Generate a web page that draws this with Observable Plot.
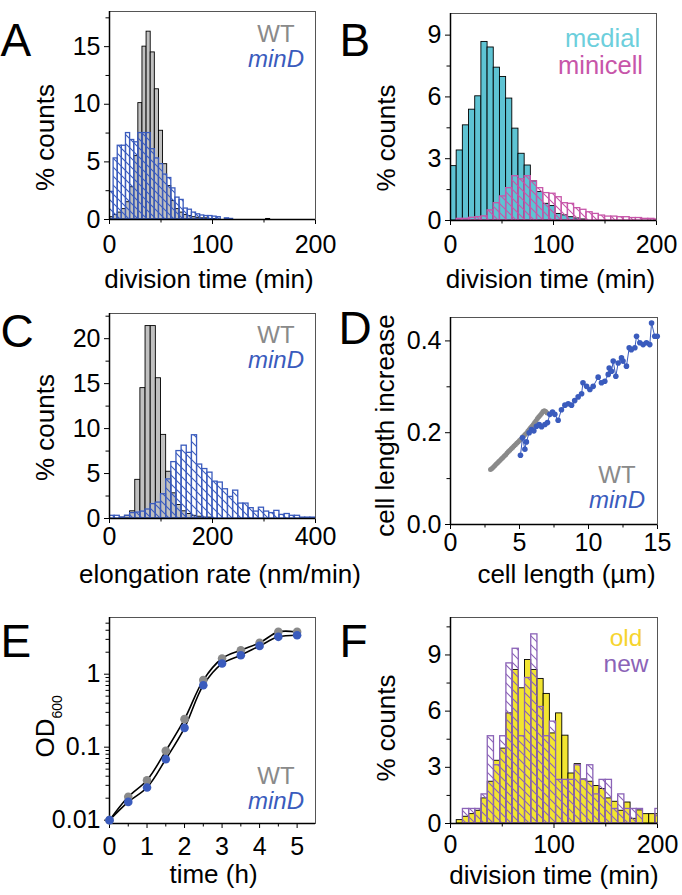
<!DOCTYPE html>
<html><head><meta charset="utf-8">
<script src="https://cdn.jsdelivr.net/npm/d3@7"></script>
<script src="https://cdn.jsdelivr.net/npm/@observablehq/plot@0.6"></script>
<style>
body{margin:0;background:#fff;}
#fig{position:relative;width:682px;height:895px;font-family:"Liberation Sans",Arial,Helvetica,sans-serif;}
.panel{position:absolute;}
</style></head><body>
<svg style="position:absolute;width:0;height:0" aria-hidden="true"><defs>
<pattern id="hBlue" patternUnits="userSpaceOnUse" width="9" height="9"><path d="M0,0L9,9M-1,8L1,10M8,-1L10,1" stroke="#3a5bbd" stroke-width="1.1"/></pattern>
<pattern id="hMag" patternUnits="userSpaceOnUse" width="9" height="9"><path d="M0,0L9,9M-1,8L1,10M8,-1L10,1" stroke="#c756a9" stroke-width="1.1"/></pattern>
<pattern id="hPur" patternUnits="userSpaceOnUse" width="9" height="9"><path d="M0,0L9,9M-1,8L1,10M8,-1L10,1" stroke="#8b63b7" stroke-width="1.1"/></pattern>
</defs></svg>
<div id="fig"></div>
<script>
// ---------- DATA ----------
// A: division time histograms, 4-min bins from 0
const binA = 4;
const wtA = [0.2,0.4,0.6,0.9,1.5,2.8,5.5,10.1,15.0,16.3,14.5,11.3,7.7,4.8,2.9,1.6,0.9,0.6,0.4,0.3,0.2,0.15,0.1,0.1,0.05,0.05,0,0,0,0,0,0,0,0,0,0,0,0,0.05];
const minDA = [2.4,5.3,6.4,6.4,7.5,6.9,6.7,7.5,7.5,7.5,6.1,5.3,4.8,3.9,3.6,2.7,1.9,1.7,0.95,0.85,0.6,0.45,0.35,0.3,0.3,0.25,0.2,0,0.1,0.05];
// B: medial vs minicell, 6-min bins
const binB = 6;
const medialB = [2.64,3.4,4.62,5.38,6.03,8.67,8.4,7.42,6.97,5.92,4.46,3.24,2.67,1.9,1.38,0.81,0.7,0.32,0.25,0.16,0.1,0.05];
const minicellB = [0,0.08,0.08,0.13,0.16,0.2,0.49,0.84,1.17,1.57,2.15,2.0,2.15,1.9,1.57,1.33,1.3,1.13,0.84,0.81,0.6,0.52,0.4,0.32,0.24,0.19,0.19,0.16,0.16,0.12,0.12,0.08,0.08,0.05];
// C: elongation rate, 10 nm/min bins
const binC = 10;
const wtC = [0,0,0.1,0.3,0.8,4.3,14.5,21.4,21.4,15.6,9.3,5.2,2.8,1.5,0.8,0.5,0.3,0.2,0.1,0.1];
const minDC = [0.3,0.3,0.1,0.3,0.6,0.66,0.77,1.0,1.6,1.77,2.7,4.35,6.27,7.5,8.1,7.3,9.26,6.0,5.5,5.1,4.1,4.0,3.25,2.4,3.1,1.66,1.66,1.15,0.77,1.2,0.77,0.6,0.85,0.4,0.5,0.3,0.3,0.1,0.1,0.1];
// D: cell length vs length increase
const wtDlen = [2.9,3.0,3.1,3.2,3.3,3.4,3.5,3.6,3.7,3.8,3.9,4.0,4.1,4.2,4.3,4.4,4.5,4.6,4.7,4.8,4.9,5.0,5.1,5.2,5.3,5.4,5.5,5.6,5.7,5.8,5.9,6.0,6.1,6.2,6.3,6.4,6.5,6.6,6.7,6.8,6.9,7.0];
const wtDinc = [0.120,0.122,0.125,0.128,0.131,0.134,0.137,0.140,0.143,0.146,0.149,0.152,0.156,0.159,0.162,0.165,0.168,0.171,0.174,0.177,0.180,0.183,0.186,0.190,0.193,0.196,0.199,0.203,0.207,0.211,0.214,0.218,0.222,0.226,0.231,0.235,0.238,0.242,0.246,0.248,0.246,0.243];
const minDDlen = [5.07,5.22,5.39,5.5,5.7,5.87,6.04,6.23,6.43,6.6,6.84,7.03,7.2,7.39,7.56,7.8,8.04,8.29,8.53,8.77,9.0,9.25,9.5,9.6,9.86,10.1,10.34,10.7,10.94,11.18,11.43,11.5,11.67,11.79,11.98,12.15,12.39,12.5,12.75,12.95,13.1,13.36,13.48,13.72,13.96,14.2,14.44,14.57,14.8,14.98];
const minDDinc = [0.151,0.189,0.164,0.18,0.2,0.207,0.204,0.214,0.218,0.213,0.218,0.222,0.24,0.245,0.24,0.227,0.25,0.26,0.263,0.26,0.27,0.278,0.285,0.309,0.301,0.294,0.301,0.321,0.309,0.312,0.327,0.341,0.334,0.356,0.323,0.352,0.363,0.356,0.345,0.385,0.381,0.385,0.41,0.396,0.392,0.396,0.392,0.439,0.41,0.41];
// E: growth curves
const timeE = [0,0.5,1,1.5,2,2.5,3,3.5,4,4.5,5];
const wtE = [0.01,0.0209,0.0353,0.089,0.242,0.83,1.64,2.13,2.69,3.8,3.8];
const minDE = [0.01,0.0178,0.028,0.0685,0.184,0.707,1.4,1.82,2.44,3.25,3.42];
// F: old vs new pole, 6-min bins
const binF = 6;
const oldF = [0,0.18,0.36,0.5,0.68,1.34,2.23,3.35,4.0,5.88,8.2,7.22,8.73,8.2,7.72,6.92,4.81,5.88,4.69,2.67,3.17,2.35,2.23,2.0,1.84,1.34,1.16,0.68,1.12,0.25,0.7,0.5,0.5,0.5];
const newF = [0,0,0.777,0.777,0.777,1.554,4.66,3.11,4.66,8.55,9.33,4.66,7.77,10.1,6.22,4.66,5.44,2.33,2.33,2.33,3.11,2.33,3.11,1.554,2.33,2.33,0.777,1.554,0.777,0.777,0.777,0,0,0.777];

// ---------- STYLE ----------
const FONT = '"Liberation Sans", Arial, Helvetica, sans-serif';
const GRAYF = "#c0c0c0", WTC = "#8a8a8a", BLUE = "#3a5bbd", CYAN = "#5ec3d3", CYANT = "#6dcfdc",
      MAG = "#c756a9", YEL = "#f2e531", YELT = "#f6d42e", PUR = "#8b63b7";
const numFmt = d3.format("~g");

const bins = (vals, w) => vals.map((v, i) => ({x1: i * w, x2: (i + 1) * w, y1: 0, y2: v})).filter(d => d.y2 > 0);
const pts = (xs, ys) => xs.map((x, i) => ({x, y: ys[i]}));

const fig = document.getElementById("fig");
function makePanel(P, marks) {
  const svg = Plot.plot({
    width: P.w, height: P.h,
    marginLeft: P.ml, marginRight: P.mr, marginTop: P.mt, marginBottom: P.mb,
    x: P.x, y: P.y,
    style: {fontFamily: FONT, fontSize: "25px", color: "black", background: "transparent", overflow: "visible"},
    marks
  });
  const d = document.createElement("div");
  d.className = "panel";
  d.style.left = P.left + "px"; d.style.top = P.top + "px";
  d.style.width = P.w + "px"; d.style.height = P.h + "px";
  d.appendChild(svg); fig.appendChild(d);
}
function lab(P, s, ax, ay, o = {}) {
  return Plot.text([s], {frameAnchor: "top-left", dx: ax - P.ml, dy: ay - P.mt,
    textAnchor: "middle", lineAnchor: "bottom", fontSize: 26, fill: "black", ...o});
}
function axes(P, xMaj, xMin, yMaj, yMin, yFmt = numFmt) {
  return [
    Plot.axisX({ticks: xMaj, tickSize: 5, tickPadding: P.xpad, label: null, fontSize: 25, tickFormat: numFmt}),
    Plot.axisX({ticks: xMin, tickSize: 3.5, tickFormat: () => "", label: null}),
    Plot.axisY({ticks: yMaj, tickSize: 5, tickPadding: 4, label: null, fontSize: 25, tickFormat: yFmt}),
    Plot.axisY({ticks: yMin, tickSize: 3.5, tickFormat: () => "", label: null}),
    Plot.frame({stroke: "#555", strokeWidth: 1}),
    Plot.ruleX([P.x.domain[0]], {stroke: "black", strokeWidth: 1.5}),
    Plot.ruleY([P.y.domain[0]], {stroke: "black", strokeWidth: 1.5})
  ];
}
const solid = (data, fill) => Plot.rect(data, {x1: "x1", x2: "x2", y1: "y1", y2: "y2", fill, stroke: "black", strokeWidth: 0.9, clip: true});
const hatch = (data, pat, col) => Plot.rect(data, {x1: "x1", x2: "x2", y1: "y1", y2: "y2", fill: `url(#${pat})`, stroke: col, strokeWidth: 1.3, clip: true});
const LEG = 24;
// legend pair: first line baseline y1, second line `gap` px lower
function legend(P, cx, y1, s1, c1, s2, c2, it2 = false, fs = LEG, gap = 25) {
  return [
    lab(P, s1, cx, y1, {fill: c1, fontSize: fs}),
    lab(P, s2, cx, y1 + gap, {fill: c2, fontSize: fs, fontStyle: it2 ? "italic" : "normal"})
  ];
}

// ---------- A ----------
{
  const P = {left: 0, top: 0, w: 341, h: 295, ml: 109, mr: 26, mt: 11, mb: 76, xpad: 11,
    x: {domain: [0, 200]}, y: {domain: [0, 18.05]}};
  makePanel(P, [
    solid(bins(wtA, binA), GRAYF),
    hatch(bins(minDA, binA), "hBlue", BLUE),
    ...axes(P, [0, 100, 200], [50, 150], [0, 5, 10, 15], [2.5, 7.5, 12.5, 17.5]),
    lab(P, "A", 0, 55, {fontSize: 46, textAnchor: "start"}),
    ...legend(P, 275.5, 41.5, "WT", WTC, "minD", BLUE, true),
    lab(P, "% counts", 53, 137, {rotate: -90}),
    lab(P, "division time (min)", 208.5, 287)
  ]);
}
// ---------- B ----------
{
  const P = {left: 341, top: 0, w: 341, h: 295, ml: 109, mr: 26, mt: 13, mb: 75, xpad: 10,
    x: {domain: [0, 200]}, y: {domain: [0, 10.05]}};
  makePanel(P, [
    solid(bins(medialB, binB), CYAN),
    hatch(bins(minicellB, binB), "hMag", MAG),
    ...axes(P, [0, 100, 200], [50, 150], [0, 3, 6, 9], [1.5, 4.5, 7.5]),
    lab(P, "B", -2, 55, {fontSize: 46, textAnchor: "start"}),
    lab(P, "medial", 261, 46, {fill: CYANT, fontSize: 25.5}),
    lab(P, "minicell", 259, 73, {fill: MAG, fontSize: 25.5}),
    lab(P, "% counts", 53, 137.5, {rotate: -90}),
    lab(P, "division time (min)", 209, 287)
  ]);
}
// ---------- C ----------
{
  const P = {left: 0, top: 295, w: 341, h: 295, ml: 109, mr: 26, mt: 18, mb: 72, xpad: 4,
    x: {domain: [0, 400]}, y: {domain: [0, 22.8]}};
  makePanel(P, [
    solid(bins(wtC, binC), GRAYF),
    hatch(bins(minDC, binC), "hBlue", BLUE),
    ...axes(P, [0, 200, 400], [100, 300], [0, 5, 10, 15, 20], [2.5, 7.5, 12.5, 17.5, 22.5]),
    lab(P, "C", 0, 51.7, {fontSize: 46, textAnchor: "start"}),
    ...legend(P, 275.5, 47.5, "WT", WTC, "minD", BLUE, true),
    lab(P, "% counts", 53, 132, {rotate: -90}),
    lab(P, "elongation rate (nm/min)", 219.5, 287.5)
  ]);
}
// ---------- D ----------
{
  const P = {left: 341, top: 295, w: 341, h: 295, ml: 109, mr: 25, mt: 22, mb: 66, xpad: 4,
    x: {domain: [0, 15]}, y: {domain: [0, 0.451]}};
  const wt = pts(wtDlen, wtDinc), md = pts(minDDlen, minDDinc);
  makePanel(P, [
    ...axes(P, [0, 5, 10, 15], [2.5, 7.5, 12.5], [0, 0.2, 0.4], [0.1, 0.3], d3.format(".1f")),
    Plot.dot(wt, {x: "x", y: "y", r: 2.5, fill: WTC}),
    Plot.line(md, {x: "x", y: "y", stroke: BLUE, strokeWidth: 1}),
    Plot.dot(md, {x: "x", y: "y", r: 2.8, fill: BLUE}),
    lab(P, "D", -3, 48.3, {fontSize: 46, textAnchor: "start"}),
    ...legend(P, 275.5, 187.5, "WT", WTC, "minD", BLUE, true),
    lab(P, "cell length increase", 52, 130, {rotate: -90}),
    lab(P, "cell length (µm)", 225, 287)
  ]);
}
// ---------- E ----------
{
  const P = {left: 0, top: 590, w: 341, h: 305, ml: 109, mr: 26, mt: 27, mb: 72, xpad: 9,
    x: {domain: [0, 5.49]}, y: {type: "log", domain: [0.009, 5.98]}};
  const wt = pts(timeE, wtE), md = pts(timeE, minDE);
  makePanel(P, [
    ...axes(P, [0, 1, 2, 3, 4, 5], [0.5, 1.5, 2.5, 3.5, 4.5], [0.01, 0.1, 1],
      [0.02, 0.03, 0.04, 0.05, 0.06, 0.07, 0.08, 0.09, 0.2, 0.3, 0.4, 0.5, 0.6, 0.7, 0.8, 0.9, 2, 3, 4, 5]),
    Plot.line(wt, {x: "x", y: "y", stroke: "black", strokeWidth: 1.6, curve: "catmull-rom"}),
    Plot.line(md, {x: "x", y: "y", stroke: "black", strokeWidth: 1.6, curve: "catmull-rom"}),
    Plot.dot(wt, {x: "x", y: "y", r: 4.3, fill: WTC}),
    Plot.dot(md, {x: "x", y: "y", r: 4.3, fill: BLUE}),
    lab(P, "E", 0, 66.7, {fontSize: 46, textAnchor: "start"}),
    ...legend(P, 275.5, 193, "WT", WTC, "minD", BLUE, true),
    lab(P, "OD", 53, 167, {rotate: -90, textAnchor: "start"}),
    lab(P, "600", 61.5, 128, {rotate: -90, textAnchor: "start", fontSize: 14}),
    lab(P, "time (h)", 213, 292)
  ]);
}
// ---------- F ----------
{
  const P = {left: 341, top: 590, w: 341, h: 305, ml: 109, mr: 25, mt: 27, mb: 72, xpad: 7,
    x: {domain: [0, 200]}, y: {domain: [0, 11.0]}};
  makePanel(P, [
    solid(bins(oldF, binF), YEL),
    hatch(bins(newF, binF), "hPur", PUR),
    ...axes(P, [0, 100, 200], [50, 150], [0, 3, 6, 9], [1.5, 4.5, 7.5, 10.5]),
    lab(P, "F", -2, 66.7, {fontSize: 46, textAnchor: "start"}),
    ...legend(P, 284.5, 55, "old", YELT, "new", PUR, false, 24.5, 26),
    lab(P, "% counts", 53, 137.5, {rotate: -90}),
    lab(P, "division time (min)", 212.5, 293)
  ]);
}
</script>
</body></html>
